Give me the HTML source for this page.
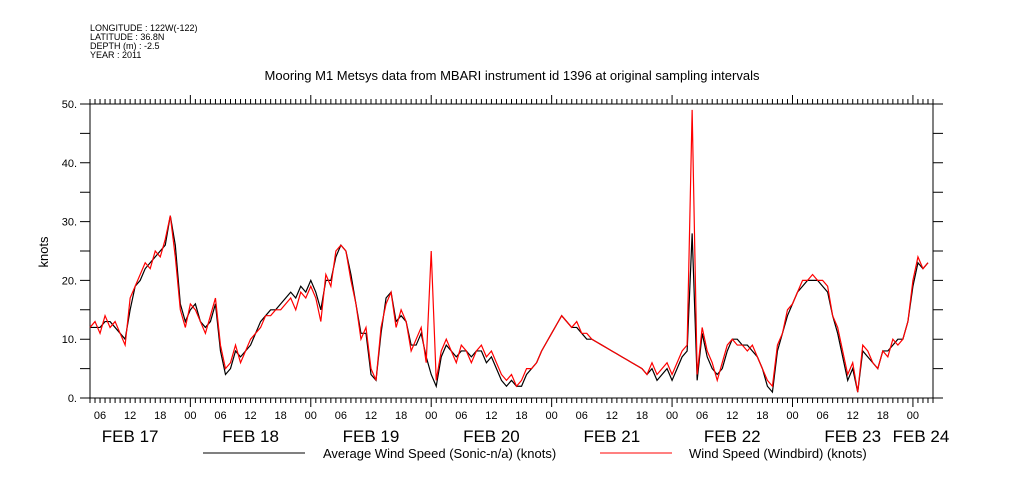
<!DOCTYPE html>
<html><head><meta charset="utf-8"><style>
body{margin:0;background:#fff;}
svg{display:block;font-family:"Liberation Sans",sans-serif;}
</style></head><body>
<svg id="chart" width="1009" height="504" viewBox="0 0 1009 504">
<g font-size="9" fill="#000">
<text x="90" y="31">LONGITUDE : 122W(-122)</text>
<text x="90" y="40">LATITUDE : 36.8N</text>
<text x="90" y="49">DEPTH (m) : -2.5</text>
<text x="90" y="58">YEAR : 2011</text>
</g>
<text x="512" y="80" font-size="13" text-anchor="middle">Mooring M1 Metsys data from MBARI instrument id 1396 at original sampling intervals</text>
<text x="0" y="0" font-size="13" text-anchor="middle" transform="translate(48,252) rotate(-90)">knots</text>
<g id="axes"></g>
<g id="series"></g>
<g font-size="13">
<line x1="203" y1="453" x2="305" y2="453" stroke="#000" stroke-width="1"/>
<text x="323" y="458">Average Wind Speed (Sonic-n/a) (knots)</text>
<line x1="600" y1="453" x2="672" y2="453" stroke="#f00" stroke-width="1"/>
<text x="689" y="458">Wind Speed (Windbird) (knots)</text>
</g>
</svg>
<script>
// hours since Feb 17 04:00, one value per hour
const windbird = [12,13,11,14,12,13,11,9,17,19,21,23,22,25,24,27,31,24,15,12,16,15,13,11,14,17,9,5,6,9,6,8,10,11,12,14,14,15,15,16,17,15,18,17,19,17,13,21,19,25,26,25,20,16,10,12,5,3,12,16,18,12,15,13,8,10,12,6,25,3,8,10,8,6,9,8,6,8,9,7,8,6,4,3,4,2,3,5,5,6,8,9.5,11,12.5,14,13,12,13,11,11,10,9.5,9,8.5,8,7.5,7,6.5,6,5.5,5,4,6,4,5,6,4,6,8,9,49,4,12,8,6,3,6,9,10,9,9,8,9,7,5,3,2,9,11,15,16,18,20,20,21,20,20,19,14,12,8,4,6,1,9,8,6,5,8,7,10,9,10,13,20,24,22,23];
const sonic = [12,12,12,13,13,12,11,10,15,19,20,22,23,24,25,26,31,26,16,13,15,16,13,12,13,16,8,4,5,8,7,8,9,11,13,14,15,15,16,17,18,17,19,18,20,18,15,20,20,24,26,25,21,16,11,11,4,3,11,17,18,13,14,13,9,9,11,7,4,2,7,9,8,7,8,8,7,8,8,6,7,5,3,2,3,2,2,4,5,6,8,9.5,11,12.5,14,13,12,12,11,10,10,9.5,9,8.5,8,7.5,7,6.5,6,5.5,5,4,5,3,4,5,3,5,7,8,28,3,11,7,5,4,5,8,10,10,9,9,8,7,5,2,1,8,11,14,16,18,19,20,20,20,19,18,14,11,7,3,5,1,8,7,6,5,8,8,9,10,10,13,19,23,22,23];
const yTickValues = [0,10,20,30,40,50];
const yTickLabels = ["0.","10.","20.","30.","40.","50."];
const hourLabels = ["06","12","18","00"];
const dayLabels = ["FEB 17","FEB 18","FEB 19","FEB 20","FEB 21","FEB 22","FEB 23","FEB 24"];

const NS="http://www.w3.org/2000/svg";
const X0=90,X1=933,Y0=398,Y1=104,H=168;
function xs(h){return X0+(X1-X0)*h/H;}
function ys(v){return Y0-(Y0-Y1)*v/50;}
function mk(tag,attrs,parent){const e=document.createElementNS(NS,tag);for(const k in attrs)e.setAttribute(k,attrs[k]);parent.appendChild(e);return e;}
const axes=document.getElementById('axes');
const frame=mk('rect',{x:X0,y:Y1,width:X1-X0,height:Y0-Y1,fill:'none',stroke:'#000','stroke-width':1},axes);


// x ticks, hourly; hour 0 = Feb17 04:00
let tp='';
for(let h=0;h<=H;h++){
  const clock=(h+4)%24;const x=xs(h);
  const len=clock===0?9:5;
  tp+=`M${x},${Y0}V${Y0+len}M${x},${Y1}V${Y1-len}`;
  if(clock%6===0){
    const t=mk('text',{x:x,y:419,'font-size':11,'text-anchor':'middle'},axes);
    t.textContent=hourLabels[(clock/6+3)%4];
    
    
  }
}
for(let v=0;v<=50;v+=5){const y=ys(v);tp+=`M${X0-10},${y}H${X0}M${X1},${y}H${X1+10}`;}
const ticks=mk('path',{d:tp,stroke:'#000','stroke-width':1,fill:'none'},axes);


yTickValues.forEach((v,i)=>{
  const t=mk('text',{x:77,y:ys(v)+4,'font-size':11,'text-anchor':'end'},axes);
  t.textContent=yTickLabels[i];
  
  
});
dayLabels.forEach((d,i)=>{
  let cx=xs(20+24*i+12-24); // noon of day i (day 0 noon = h 8)
  if(i===7)cx=921;
  const t=mk('text',{x:cx,y:442,'font-size':17,'text-anchor':'middle'},axes);
  t.textContent=d;
  
  
});
const series=document.getElementById('series');
function line(data,color,name){
  const d=data.map((v,i)=>(i?'L':'M')+xs(i).toFixed(2)+','+ys(v).toFixed(2)).join('');
  const p=mk('path',{d:d,stroke:color,'stroke-width':1.2,fill:'none'},series);
  
  
}
line(sonic,'#000','average-wind-speed-line');
line(windbird,'#f00','windbird-wind-speed-line');
</script>
</body></html>
